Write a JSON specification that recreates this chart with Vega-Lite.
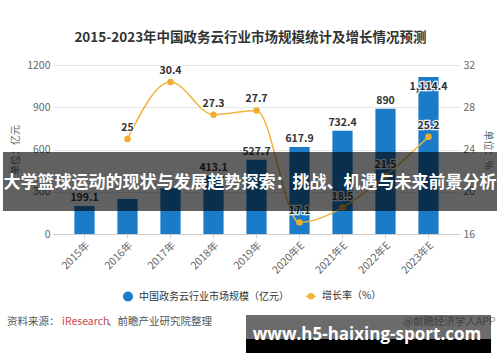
{
  "$schema": "https://vega.github.io/schema/vega-lite/v6.json",
  "width": 407,
  "height": 169,
  "autosize": {"type": "none"},
  "padding": {"left": 53, "top": 65, "right": 40, "bottom": 128},
  "background": "white",
  "config": {
    "view": {"stroke": null},
    "font": "Noto Sans CJK SC",
    "title": {"fontSize": 13.5, "fontWeight": "bold", "color": "#333", "anchor": "middle", "offset": 16, "dx": -6},
    "axis": {"labelFont": "Noto Sans CJK SC", "titleFont": "Noto Sans CJK SC"}
  },
  "title": "2015-2023年中国政务云行业市场规模统计及增长情况预测",
  "data": {
    "values": [
      {"year": "2015年", "size": 199.1, "growth": null},
      {"year": "2016年", "size": 248.9, "growth": 25},
      {"year": "2017年", "size": 324.5, "growth": 30.4},
      {"year": "2018年", "size": 413.1, "growth": 27.3},
      {"year": "2019年", "size": 527.7, "growth": 27.7},
      {"year": "2020年E", "size": 617.9, "growth": 17.1},
      {"year": "2021年E", "size": 732.4, "growth": 18.5},
      {"year": "2022年E", "size": 890, "growth": 21.5},
      {"year": "2023年E", "size": 1114.4, "growth": 25.2}
    ]
  },
  "layer": [
    {
      "encoding": {
        "x": {
          "field": "year", "type": "nominal", "sort": null,
          "scale": {"paddingInner": 0.53, "paddingOuter": 0.4975},
          "axis": {"title": null, "labelAngle": -45, "labelFontSize": 10.5, "labelColor": "#666", "domainColor": "#ccc", "tickColor": "#ccc", "tickSize": 4, "labelPadding": 2}
        }
      },
      "layer": [
        {
          "encoding": {
            "y": {
              "field": "size", "type": "quantitative",
              "scale": {"domain": [0, 1200], "nice": false},
              "axis": {"orient": "left", "values": [0, 300, 600, 900, 1200], "format": "d", "grid": true, "gridColor": "#e6e6e6", "domain": false, "ticks": false, "labelColor": "#666", "labelFontSize": 10.5, "labelPadding": 3, "title": "单位：亿元", "titleFontSize": 10, "titleColor": "#666", "titleFontWeight": "normal", "titlePadding": 6}
            }
          },
          "layer": [
            {
              "mark": {"type": "bar", "color": "#1A7BC8"},
              "encoding": {
                "color": {
                  "datum": "中国政务云行业市场规模（亿元）",
                  "scale": {"domain": ["中国政务云行业市场规模（亿元）", "增长率（%）"], "range": ["#1A7BC8", "#F0B43C"]},
                  "legend": {
                    "orient": "none", "legendX": 70, "legendY": 226, "direction": "horizontal",
                    "title": null, "labelFontSize": 10, "labelColor": "#333", "labelFont": "Noto Sans CJK SC",
                    "symbolSize": 100, "columnPadding": 14, "padding": 0, "labelOffset": 6,
                    "encode": {
                      "symbols": {
                        "update": {
                          "shape": {"signal": "datum.index === 1 ? 'M-1,0L1,0M-0.5,0A0.5,0.5,0,1,0,0.5,0A0.5,0.5,0,1,0,-0.5,0Z' : 'circle'"},
                          "fill": {"signal": "datum.index === 1 ? '#F0B43C' : '#1A7BC8'"},
                          "stroke": {"signal": "datum.index === 1 ? '#F0B43C' : '#1A7BC8'"},
                          "strokeWidth": {"signal": "datum.index === 1 ? 1.5 : 0"},
                          "opacity": {"value": 1}
                        }
                      }
                    }
                  }
                }
              }
            },
            {
              "transform": [{"filter": "datum.size <= 1000 && datum.year !== '2016年' && datum.year !== '2017年'"}],
              "mark": {"type": "text", "baseline": "bottom", "dy": -3, "fontSize": 10.5, "fontWeight": "bold", "color": "#333"},
              "encoding": {"text": {"field": "size", "type": "quantitative", "format": ",.1~f"}}
            },
            {
              "transform": [{"filter": "datum.size > 1000"}],
              "mark": {"type": "text", "baseline": "top", "dy": 5, "fontSize": 10.5, "fontWeight": "bold", "color": "#333", "stroke": "white", "strokeWidth": 2.5, "strokeOpacity": 0.9},
              "encoding": {"text": {"field": "size", "type": "quantitative", "format": ",.1~f"}}
            },
            {
              "transform": [{"filter": "datum.size > 1000"}],
              "mark": {"type": "text", "baseline": "top", "dy": 5, "fontSize": 10.5, "fontWeight": "bold", "color": "#333"},
              "encoding": {"text": {"field": "size", "type": "quantitative", "format": ",.1~f"}}
            }
          ]
        },
        {
          "transform": [{"filter": "isValid(datum.growth)"}],
          "encoding": {
            "y": {
              "field": "growth", "type": "quantitative",
              "scale": {"domain": [16, 32], "nice": false, "zero": false},
              "axis": {"orient": "right", "values": [16, 20, 24, 28, 32], "grid": false, "domain": false, "ticks": false, "labelColor": "#666", "labelFontSize": 10.5, "labelPadding": 3, "title": "单位：%", "titleFontSize": 10, "titleColor": "#666", "titleFontWeight": "normal", "titlePadding": 8}
            }
          },
          "layer": [
            {
              "mark": {"type": "line", "interpolate": "monotone", "color": "#EDB53A", "strokeWidth": 1.5},
              "encoding": {"color": {"datum": "增长率（%）"}}
            },
            {
              "mark": {"type": "point", "filled": true, "size": 42, "color": "#F0AE2E", "opacity": 1},
              "encoding": {}
            },
            {
              "mark": {"type": "text", "baseline": "bottom", "dy": -6, "fontSize": 10.5, "fontWeight": "bold", "color": "#333", "stroke": "white", "strokeWidth": 2.5, "strokeOpacity": 0.9},
              "encoding": {"text": {"field": "growth", "type": "quantitative"}}
            },
            {
              "mark": {"type": "text", "baseline": "bottom", "dy": -6, "fontSize": 10.5, "fontWeight": "bold", "color": "#333"},
              "encoding": {"text": {"field": "growth", "type": "quantitative"}}
            }
          ]
        }
      ],
      "resolve": {"scale": {"y": "independent"}}
    },
    {
      "data": {"values": [{}]},
      "encoding": {
        "x": {"datum": 0, "type": "quantitative", "scale": {"domain": [0, 1], "nice": false, "zero": false}, "axis": null},
        "y": {"datum": 0, "type": "quantitative", "scale": {"domain": [0, 1], "nice": false, "zero": false}, "axis": null}
      },
      "layer": [
        {
          "mark": {"type": "text", "text": "资料来源：", "align": "left", "baseline": "middle", "fontSize": 10.5, "color": "#555"},
          "encoding": {"x": {"datum": -0.113}, "y": {"datum": -0.5207}}
        },
        {
          "mark": {"type": "text", "text": "iResearch", "align": "left", "baseline": "middle", "fontSize": 10.5, "color": "#C9474A"},
          "encoding": {"x": {"datum": 0.0221}, "y": {"datum": -0.5207}}
        },
        {
          "mark": {"type": "text", "text": "、前瞻产业研究院整理", "align": "left", "baseline": "middle", "fontSize": 10.5, "color": "#555"},
          "encoding": {"x": {"datum": 0.1327}, "y": {"datum": -0.5207}}
        },
        {
          "mark": {"type": "text", "text": "@前瞻经济学人APP", "align": "left", "baseline": "middle", "fontSize": 10.5, "color": "#999"},
          "encoding": {"x": {"datum": 0.86}, "y": {"datum": -0.5207}}
        },
        {
          "mark": {"type": "rect", "color": "black", "opacity": 0.62},
          "encoding": {"x": {"datum": -0.1229}, "x2": {"datum": 1.0909}, "y": {"datum": 0.4852}, "y2": {"datum": 0.1361}}
        },
        {
          "mark": {"type": "text", "text": "大学篮球运动的现状与发展趋势探索：挑战、机遇与未来前景分析", "align": "center", "baseline": "middle", "fontSize": 17, "fontWeight": "bold", "color": "white"},
          "encoding": {"x": {"datum": 0.484}, "y": {"datum": 0.3018}}
        },
        {
          "mark": {"type": "rect", "color": "black", "opacity": 0.58},
          "encoding": {"x": {"datum": 0.4742}, "x2": {"datum": 1.0762}, "y": {"datum": -0.4793}, "y2": {"datum": -0.6213}}
        },
        {
          "mark": {"type": "rect", "color": "black", "opacity": 1},
          "encoding": {"x": {"datum": 0.4742}, "x2": {"datum": 1.0762}, "y": {"datum": -0.6213}, "y2": {"datum": -0.7041}}
        },
        {
          "mark": {"type": "text", "text": "www.h5-haixing-sport.com", "align": "center", "baseline": "alphabetic", "font": "Open Sans", "fontSize": 17, "fontWeight": "bold", "color": "white"},
          "encoding": {"x": {"datum": 0.7715}, "y": {"datum": -0.6272}}
        }
      ]
    }
  ],
  "resolve": {"scale": {"x": "independent", "y": "independent"}}
}
